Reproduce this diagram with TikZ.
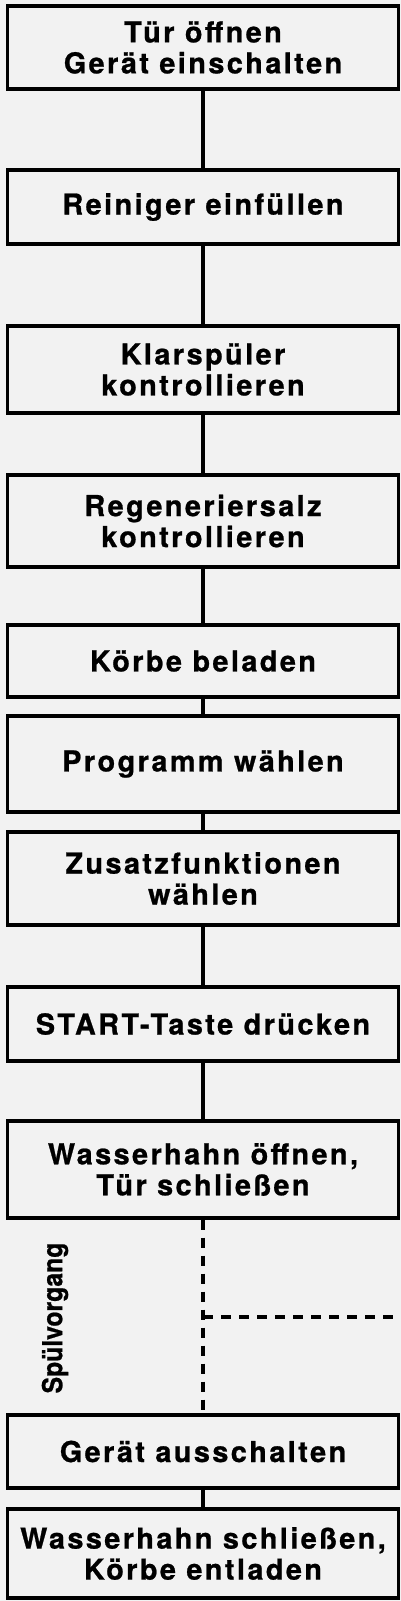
\documentclass[tikz,border=0pt]{standalone}
\usepackage{fontspec}
\newfontfamily\flowfont{TeX Gyre Heros}[LetterSpace=8.5, BoldFeatures={FakeBold=0.8}]
\newfontfamily\sidefont{TeX Gyre Heros}[BoldFeatures={FakeBold=0.8}]
\definecolor{paper}{RGB}{242,242,242}
\tikzset{
  flowbox/.style={draw, line width=3.3pt, fill=paper, minimum width=391pt, inner sep=0pt, align=center, font=\flowfont\bfseries\fontsize{28.8}{31}\selectfont},
  flowline/.style={line width=3.3pt},
  loopline/.style={line width=3.3pt, dash pattern=on 10pt off 8pt}
}
\def\flowbox(#1,#2,#3,#4){
  \node[flowbox, minimum height=#3] (#1) at (203,#2) {#4};
}
\begin{document}
\begin{tikzpicture}[x=1pt,y=-1pt]
\fill[paper] (0,0) rectangle (401,1601);
\useasboundingbox (0,0) rectangle (401,1601);
\flowbox(box_door,47.5,83,Tür öffnen\\Gerät einschalten)
\flowbox(box_det,207,74,Reiniger einfüllen)
\flowbox(box_rinse,369.5,87,Klarspüler\\kontrollieren)
\flowbox(box_salt,521,92,Regeneriersalz\\kontrollieren)
\flowbox(box_load,661,72,Körbe beladen)
\flowbox(box_prog,764,96,Programm wählen)
\flowbox(box_opt,878.5,93,Zusatzfunktionen\\wählen)
\flowbox(box_start,1024,74,START-Taste drücken)
\flowbox(box_water,1169.5,97,Wasserhahn öffnen,\\Tür schließen)
\flowbox(box_off,1451.5,73,Gerät ausschalten)
\flowbox(box_unload,1553.5,89,Wasserhahn schließen,\\Körbe entladen)
\draw[flowline] (box_door) -- (box_det);
\draw[flowline] (box_det) -- (box_rinse);
\draw[flowline] (box_rinse) -- (box_salt);
\draw[flowline] (box_salt) -- (box_load);
\draw[flowline] (box_load) -- (box_prog);
\draw[flowline] (box_prog) -- (box_opt);
\draw[flowline] (box_opt) -- (box_start);
\draw[flowline] (box_start) -- (box_water);
\draw[flowline] (box_off) -- (box_unload);
\draw[loopline] (box_water.south) -- (box_off.north);
\coordinate (branch) at (203,1317);
\coordinate (drain) at (401,1317);
\draw[loopline] (branch) -- (drain);
\node[rotate=90, inner sep=0pt, font=\sidefont\bfseries\fontsize{27.5}{30}\selectfont] (phase) at (55,1318) {\scalebox{0.9}[1]{Spülvorgang}};
\end{tikzpicture}
\end{document}
